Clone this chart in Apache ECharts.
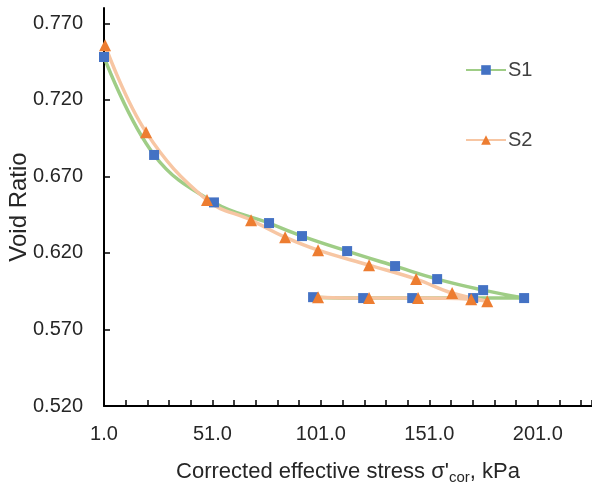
<!DOCTYPE html>
<html>
<head>
<meta charset="utf-8">
<script src="https://cdn.jsdelivr.net/npm/echarts@6/dist/echarts.min.js"></script>
<style>
  * { margin: 0; padding: 0; }
  html, body { width: 592px; height: 490px; background: #fff; }
  #chart { width: 592px; height: 490px; }
</style>
</head>
<body>
<div id="chart"></div>
<script>
// S1 : loading then unloading (stress kPa, void ratio)
var s1Stress = [1.0, 24.1, 51.7, 77.1, 92.3, 113.1, 135.2, 154.6, 175.8, 194.7, 171.2, 143.1, 120.5, 97.4];
var s1Void   = [0.748, 0.684, 0.653, 0.6395, 0.631, 0.6212, 0.6114, 0.6029, 0.5957, 0.5905, 0.5905, 0.5905, 0.5905, 0.5911];
// S2
var s2Stress = [1.5, 20.4, 48.5, 68.8, 84.5, 99.7, 123.2, 144.9, 161.5, 177.7, 170.3, 145.8, 123.2, 99.7];
var s2Void   = [0.7556, 0.6989, 0.6545, 0.6414, 0.6303, 0.6218, 0.612, 0.6029, 0.5938, 0.5885, 0.5898, 0.5905, 0.5905, 0.5911];

function pairs(xs, ys) {
  var out = [];
  for (var i = 0; i < xs.length; i++) out.push([xs[i], ys[i]]);
  return out;
}

var FONT = '"Liberation Sans", Arial, sans-serif';

var chart = echarts.init(document.getElementById('chart'));
chart.setOption({
  animation: false,
  textStyle: { fontFamily: FONT },
  grid: { left: 104, right: 0, top: 8, bottom: 84, outerBoundsMode: 'none' },
  legend: {
    orient: 'vertical',
    left: 460,
    top: 55,
    itemGap: 50,
    itemWidth: 40,
    itemHeight: 12,
    textStyle: { fontFamily: FONT, fontSize: 20, color: '#404040', padding: [0, 0, 0, -3] },
    data: ['S1', 'S2']
  },
  xAxis: {
    type: 'value',
    min: 1,
    max: 226,
    interval: 50,
    name: "Corrected effective stress σ'{sub|cor}, kPa",
    nameLocation: 'middle',
    nameGap: 52,
    nameMoveOverlap: false,
    nameTextStyle: {
      fontFamily: FONT, fontSize: 22, color: '#262626',
      rich: { sub: { fontFamily: FONT, fontSize: 15, color: '#262626', verticalAlign: 'bottom', padding: [12, 0, 0, 0] } }
    },
    axisLine: { lineStyle: { color: '#000', width: 2 } },
    axisTick: { inside: true, length: 6, lineStyle: { color: '#000', width: 1.5 } },
    minorTick: { show: true, splitNumber: 5, length: 6, lineStyle: { color: '#000', width: 1.5 } },
    splitLine: { show: false },
    axisLabel: {
      showMaxLabel: false,
      fontSize: 20, color: '#262626', margin: 18,
      formatter: function (v) { return v.toFixed(1); }
    }
  },
  yAxis: {
    type: 'value',
    min: 0.52,
    max: 0.78,
    interval: 0.05,
    name: 'Void Ratio',
    nameLocation: 'middle',
    nameRotate: 90,
    nameGap: 73,
    nameMoveOverlap: false,
    nameTextStyle: { fontFamily: FONT, fontSize: 24, color: '#262626' },
    axisLine: { show: true, lineStyle: { color: '#000', width: 2 } },
    axisTick: { show: true, inside: true, length: 6, lineStyle: { color: '#000', width: 1.5 } },
    splitLine: { show: false },
    axisLabel: {
      showMaxLabel: false,
      fontSize: 20, color: '#262626', margin: 21,
      formatter: function (v) { return v.toFixed(3); }
    }
  },
  series: [
    {
      name: 'S1',
      type: 'line',
      smooth: 0.4,
      data: pairs(s1Stress, s1Void),
      symbol: 'rect',
      symbolSize: 10,
      itemStyle: { color: '#4472c4' },
      lineStyle: { color: '#9fcd86', width: 3.5 }
    },
    {
      name: 'S2',
      type: 'line',
      smooth: 0.4,
      data: pairs(s2Stress, s2Void),
      symbol: 'triangle',
      symbolSize: 12,
      itemStyle: { color: '#ed7d31' },
      lineStyle: { color: '#f7c6a3', width: 3.5 }
    }
  ]
});
</script>
</body>
</html>
